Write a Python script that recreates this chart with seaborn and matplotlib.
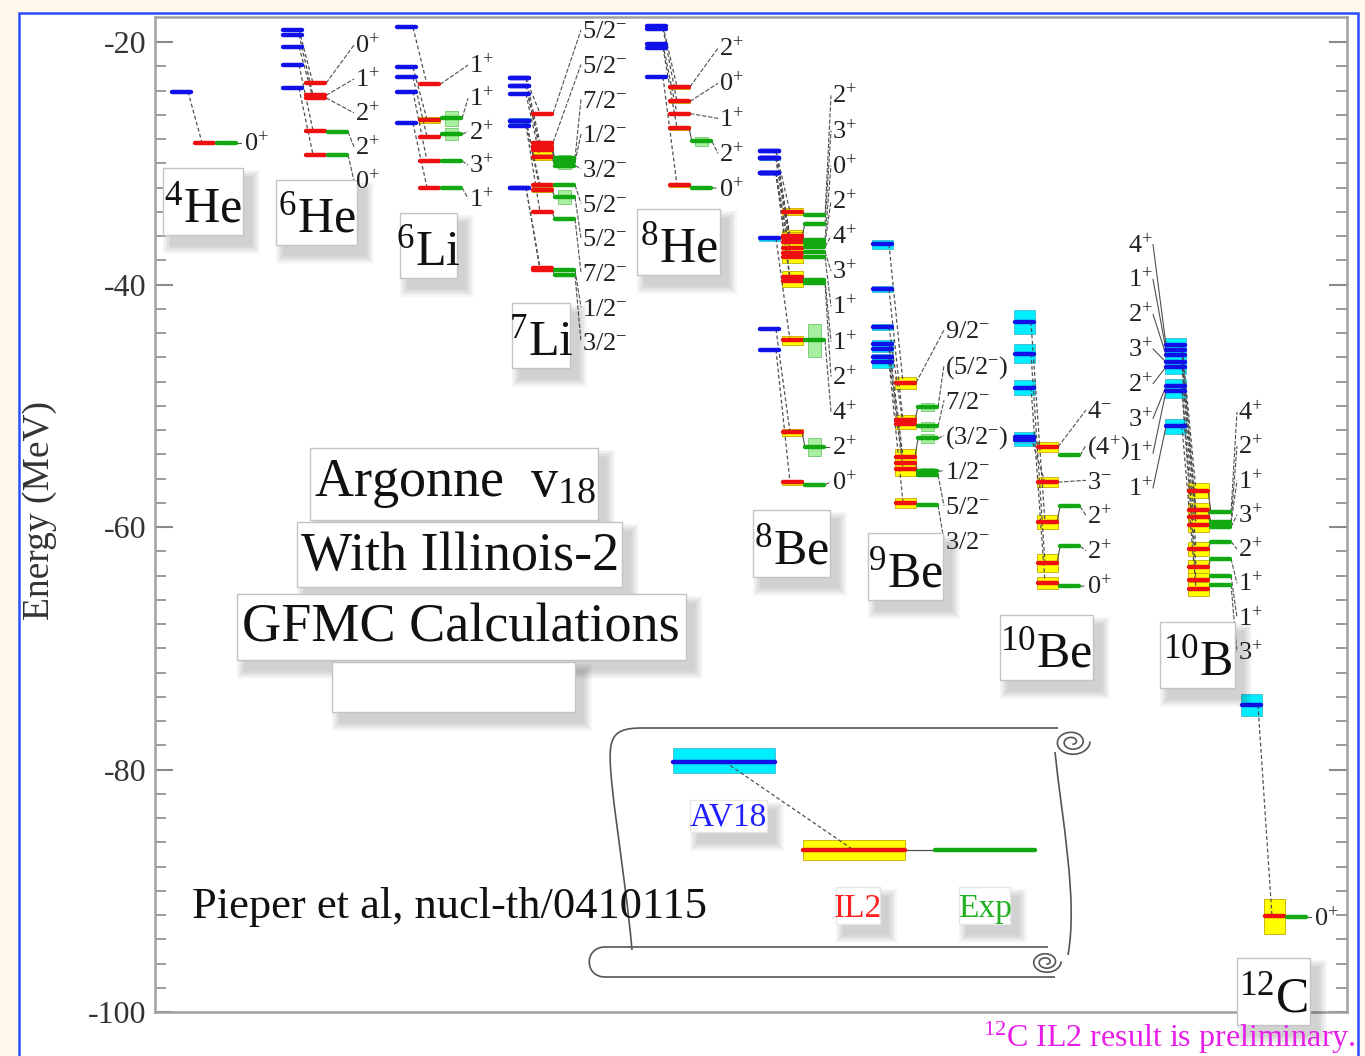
import numpy as np
import pandas as pd
import matplotlib
matplotlib.use("Agg")
import matplotlib.pyplot as plt
import seaborn as sns
from matplotlib.patches import Rectangle, PathPatch
from matplotlib.path import Path
from matplotlib.transforms import Affine2D

nan = np.nan

# ---------------- level energies (MeV), ordered like the spin labels ----------------
he4_spin = ["0$^{+}$"]
he4_av18 = [-24.1]
he4_il2 = [-28.3]
he4_exp = [-28.3]

he6_spin = ["0$^{+}$", "1$^{+}$", "2$^{+}$", "2$^{+}$", "0$^{+}$"]
he6_av18 = [-19.0, -19.4, -20.4, -21.9, -23.8]
he6_il2 = [-23.4, -24.4, -24.6, -27.3, -29.3]
he6_exp = [nan, nan, nan, -27.4, -29.3]

li6_spin = ["1$^{+}$", "1$^{+}$", "2$^{+}$", "3$^{+}$", "1$^{+}$"]
li6_av18 = [-18.8, -22.1, -22.9, -24.1, -26.7]
li6_il2 = [-23.5, -26.4, -27.8, -29.8, -32.0]
li6_il2_err = [0, 0.25, 0, 0, 0]
li6_exp = [nan, -26.3, -27.6, -29.8, -32.0]
li6_exp_w = [0, 0.6, 0.5, 0, 0]

li7_spin = ["5/2$^{-}$", "5/2$^{-}$", "7/2$^{-}$", "1/2$^{-}$", "3/2$^{-}$",
            "5/2$^{-}$", "5/2$^{-}$", "7/2$^{-}$", "1/2$^{-}$", "3/2$^{-}$"]
li7_av18 = [-23.0, -23.0, -23.6, -23.6, -24.3, -26.5, -26.5, -26.9, -32.0, -32.0]
li7_av18_err = [0, 0, 0, 0, 0, 0.2, 0.2, 0, 0, 0]
li7_il2 = [-25.9, -28.3, -28.7, -28.9, -29.5, -31.8, -32.2, -34.0, -38.6, -38.8]
li7_il2_err = [0, 0, 0.3, 0.3, 0.2, 0.15, 0.15, 0, 0, 0]
li7_exp = [nan, nan, -29.6, -29.9, -30.2, -31.8, -32.8, -34.6, -38.8, -39.2]
li7_exp_w = [0, 0, 0, 0.55, 0, 0, 0.6, 0, 0, 0]

he8_spin = ["2$^{+}$", "0$^{+}$", "1$^{+}$", "2$^{+}$", "0$^{+}$"]
he8_av18 = [-18.7, -18.9, -20.2, -20.5, -22.9]
he8_il2 = [-23.7, -24.9, -25.9, -27.1, -31.8]
he8_il2_err = [0.15, 0.15, 0.15, 0.15, 0.15]
he8_exp = [nan, nan, nan, -28.2, -32.0]
he8_exp_w = [0, 0, 0, 0.35, 0]

be8_spin = ["2$^{+}$", "3$^{+}$", "0$^{+}$", "2$^{+}$", "4$^{+}$", "3$^{+}$",
            "1$^{+}$", "1$^{+}$", "2$^{+}$", "4$^{+}$", "2$^{+}$", "0$^{+}$"]
be8_av18 = [-29.0, -29.0, -29.6, -29.6, -29.6, -30.8, -30.8, -30.8, -30.8, -36.2, -43.7, -45.4]
be8_av18_err = [0.1, 0.1, 0.1, 0.1, 0.1, 0, 0, 0, 0, 0.2, 0, 0]
be8_il2 = [-34.0, -36.0, -36.2, -36.5, -37.0, -37.4, -37.7, -39.4, -39.7, -44.6, -52.2, -56.3]
be8_il2_err = [0.3, 0.5, 0.5, 0.5, 0.5, 0.5, 0.5, 0.5, 0.5, 0.35, 0.3, 0.2]
be8_exp = [-34.3, -35.0, -36.3, -36.6, -36.9, -37.3, -37.7, -39.6, -39.9, -44.6, -53.4, -56.5]
be8_exp_w = [0, 0, 0, 0.3, 0, 0, 0, 0, 0, 1.35, 0.75, 0]

be9_spin = ["9/2$^{-}$", "(5/2$^{-}$)", "7/2$^{-}$", "(3/2$^{-}$)", "1/2$^{-}$", "5/2$^{-}$", "3/2$^{-}$"]
be9_av18 = [-36.7, -40.4, -43.5, -44.9, -45.3, -46.0, -46.4]
be9_av18_err = [0.4, 0.25, 0.25, 0.3, 0.3, 0.3, 0.45]
be9_il2 = [-48.1, -51.2, -51.5, -54.2, -54.7, -55.2, -58.0]
be9_il2_err = [0.5, 0.45, 0.45, 0.6, 0.6, 0.6, 0.4]
be9_exp = [nan, -50.1, -51.7, -52.7, -55.4, -55.7, -58.2]
be9_exp_w = [0, 0.3, 0.35, 0.35, 0.3, 0, 0]

be10_spin = ["4$^{-}$", "(4$^{+}$)", "3$^{-}$", "2$^{+}$", "2$^{+}$", "0$^{+}$"]
be10_av18 = [-52.8, nan, -52.6, -43.1, -45.7, -48.5]
be10_av18_err = [0.5, 0, 0.45, 1.0, 0.8, 0.6]
be10_il2 = [-53.4, nan, -56.3, -59.6, -63.0, -64.6]
be10_il2_err = [0.45, 0, 0.4, 0.55, 0.75, 0.5]
be10_exp = [nan, -54.1, nan, -58.3, -61.6, -64.9]

b10_spin = ["4$^{+}$", "2$^{+}$", "1$^{+}$", "3$^{+}$", "2$^{+}$", "1$^{+}$", "1$^{+}$", "3$^{+}$"]
b10_av18_spin = ["4$^{+}$", "1$^{+}$", "2$^{+}$", "3$^{+}$", "2$^{+}$", "3$^{+}$", "1$^{+}$", "1$^{+}$"]
b10_av18 = [-45.0, -45.4, -45.8, -46.4, -46.8, -48.4, -48.8, -51.7]
b10_av18_err = [0.6, 0.6, 0.6, 0.6, 0.6, 0.6, 0.6, 0.6]
b10_il2 = [-57.0, -58.6, -59.2, -59.8, -61.8, -63.3, -64.4, -65.1]
b10_il2_err = [0.6, 0.6, 0.6, 0.6, 0.6, 0.6, 0.6, 0.6]
b10_exp = [-58.8, -59.6, -59.7, -60.0, -61.2, -62.6, -64.0, -64.75]

c12_spin = ["0$^{+}$"]
c12_av18 = [-74.7]
c12_av18_err = [0.9]
c12_il2 = [-92.1]
c12_il2_err = [1.45]
c12_exp = [-92.2]

# ---------------- layout of the columns (pixel x of the AV18 column) ----------------
nuclei = [
    dict(name="$^{4}$He", spin=he4_spin, av18=he4_av18, il2=he4_il2, exp=he4_exp,
         x0=172, lab_top=-28.3, lab_step=0, box=(163, 168, 243, 235)),
    dict(name="$^{6}$He", spin=he6_spin, av18=he6_av18, il2=he6_il2, exp=he6_exp,
         x0=283, lab_top=-20.25, lab_step=2.8, box=(276, 180, 357, 245)),
    dict(name="$^{6}$Li", spin=li6_spin, av18=li6_av18, il2=li6_il2, exp=li6_exp,
         il2_err=li6_il2_err, exp_w=li6_exp_w,
         x0=397, lab_top=-21.9, lab_step=2.75, box=(400, 213, 457, 278)),
    dict(name="$^{7}$Li", spin=li7_spin, av18=li7_av18, il2=li7_il2, exp=li7_exp,
         av18_err=li7_av18_err, il2_err=li7_il2_err, exp_w=li7_exp_w,
         x0=510, lab_top=-19.0, lab_step=2.86, box=(512, 303, 570, 368)),
    dict(name="$^{8}$He", spin=he8_spin, av18=he8_av18, il2=he8_il2, exp=he8_exp,
         il2_err=he8_il2_err, exp_w=he8_exp_w,
         x0=647, lab_top=-20.5, lab_step=2.9, box=(637, 209, 720, 275)),
    dict(name="$^{8}$Be", spin=be8_spin, av18=be8_av18, il2=be8_il2, exp=be8_exp,
         av18_err=be8_av18_err, il2_err=be8_il2_err, exp_w=be8_exp_w,
         x0=760, lab_top=-24.4, lab_step=2.9, box=(753, 510, 830, 577)),
    dict(name="$^{9}$Be", spin=be9_spin, av18=be9_av18, il2=be9_il2, exp=be9_exp,
         av18_err=be9_av18_err, il2_err=be9_il2_err, exp_w=be9_exp_w,
         x0=873, lab_top=-43.75, lab_step=2.9, box=(868, 533, 943, 600)),
    dict(name="$^{10}$Be", spin=be10_spin, av18=be10_av18, il2=be10_il2, exp=be10_exp,
         av18_err=be10_av18_err, il2_err=be10_il2_err,
         x0=1015, lab_top=-50.35, lab_step=2.9, box=(1000, 615, 1093, 680)),
    dict(name="$^{10}$B", spin=b10_spin, av18=b10_av18, il2=b10_il2, exp=b10_exp,
         av18_err=b10_av18_err, il2_err=b10_il2_err, left_spin=b10_av18_spin,
         x0=1166, lab_top=-50.5, lab_step=2.83, box=(1160, 622, 1235, 688)),
    dict(name="$^{12}$C", spin=c12_spin, av18=c12_av18, il2=c12_il2, exp=c12_exp,
         av18_err=c12_av18_err, il2_err=c12_il2_err,
         x0=1242, lab_top=-92.2, lab_step=0, box=(1237, 958, 1310, 1025)),
]

BLUE, RED, GREEN = "#1010e8", "#ee1010", "#12a812"
CYAN, YELLOW, LGREEN = "#00eeff", "#ffff00", "#a8f0a0"
palette = {"AV18": BLUE, "IL2": RED, "Exp": GREEN}

# ---------------- figure ----------------
sns.set_theme(style="white")
plt.rcParams["font.family"] = ["Liberation Serif", "DejaVu Serif"]
plt.rcParams["mathtext.fontset"] = "custom"
plt.rcParams["mathtext.rm"] = "Liberation Serif"
plt.rcParams["mathtext.it"] = "Liberation Serif:italic"
plt.rcParams["mathtext.bf"] = "Liberation Serif:bold"
plt.rcParams["axes.unicode_minus"] = False

W, H = 1365, 1056
fig = plt.figure(figsize=(W / 100, H / 100), dpi=100)
fig.patch.set_facecolor("#fffaeb")
PX = Affine2D().scale(1 / W, -1 / H).translate(0, 1) + fig.transFigure

fig.add_artist(Rectangle((19, 13), 1339, 1100, transform=PX, fc="white",
                         ec="#2a4dff", lw=1.8, zorder=-5))

ax = fig.add_axes([155 / W, 1 - 1012 / H, (1347 - 155) / W, (1012 - 17) / H])
ax.set_facecolor("white")
for sp in ax.spines.values():
    sp.set_color("#a0a0a0")
    sp.set_linewidth(1.8)

LW = 19  # column width in px


def soft_box(x0, y0, x1, y1, z=5, ec="#c4c4c4"):
    for k in range(6):
        g = 2 + 3 * k
        ax.add_patch(Rectangle((x0 + 8 - g / 2, y0 + 10 - g / 2), (x1 - x0) + g, (y1 - y0) + g,
                               transform=PX, fc=(0, 0, 0, 0.03), ec="none",
                               zorder=z - 0.5, clip_on=False))
    ax.add_patch(Rectangle((x0, y0), x1 - x0, y1 - y0, transform=PX, fc="white",
                           ec=ec, lw=1.0, zorder=z, clip_on=False))


segments = []
seg_id = 0
for nuc in nuclei:
    n = len(nuc["spin"])
    av = np.asarray(nuc["av18"], float)
    il = np.asarray(nuc["il2"], float)
    ex = np.asarray(nuc["exp"], float)
    av_err = np.asarray(nuc.get("av18_err", [0] * n), float)
    il_err = np.asarray(nuc.get("il2_err", [0] * n), float)
    ex_w = np.asarray(nuc.get("exp_w", [0] * n), float)
    xa = nuc["x0"]
    xi = xa + 23
    xe = xa + 45
    xl = xa + 72

    for i in range(n):
        # uncertainty boxes
        if not np.isnan(av[i]) and av_err[i] > 0:
            ax.add_patch(Rectangle((xa - 1, av[i] - av_err[i]), LW + 2, 2 * av_err[i],
                                   fc=CYAN, ec="#40b8d0", lw=0.6, zorder=2))
        if not np.isnan(il[i]) and il_err[i] > 0:
            ax.add_patch(Rectangle((xi - 1, il[i] - il_err[i]), LW + 2, 2 * il_err[i],
                                   fc=YELLOW, ec="#c8a800", lw=0.6, zorder=2))
        if not np.isnan(ex[i]) and ex_w[i] > 0:
            ax.add_patch(Rectangle((xe + 3, ex[i] - ex_w[i]), LW - 6, 2 * ex_w[i],
                                   fc=LGREEN, ec="#70c870", lw=0.6, zorder=2))
        # level segments
        for model, vals, x in (("AV18", av, xa), ("IL2", il, xi), ("Exp", ex, xe)):
            if not np.isnan(vals[i]):
                segments.append((seg_id, model, x, vals[i]))
                segments.append((seg_id, model, x + LW, vals[i]))
                seg_id += 1
        # connectors between the columns
        if not np.isnan(av[i]) and not np.isnan(il[i]):
            ax.plot([xa + LW - 3, xi + 7], [av[i], il[i]], color="#505050", lw=0.9,
                    ls=(0, (3, 2)), zorder=3)
        if not np.isnan(il[i]) and not np.isnan(ex[i]):
            ax.plot([xi + LW, xe], [il[i], ex[i]], color="#505050", lw=0.8, zorder=3)
        # spin label
        ey = nuc["lab_top"] - i * nuc["lab_step"]
        if not np.isnan(ex[i]):
            end_x, end_e = xe + LW, ex[i]
        else:
            end_x, end_e = xi + LW, il[i]
        ax.plot([end_x + 1, xl - 1], [end_e, ey], color="#505050", lw=0.8,
                ls=(0, (4, 1.5)), zorder=3)
        ax.text(xl, ey - 0.7, nuc["spin"][i], fontsize=19, color="#222222",
                ha="left", va="baseline", zorder=7)

    # AV18 spin labels placed to the left of the column
    if "left_spin" in nuc:
        order = np.argsort(-av)
        for k, lab in enumerate(nuc["left_spin"]):
            ey = -36.7 - k * 2.87
            ax.text(xa - 38, ey - 0.7, lab, fontsize=19, color="#222222",
                    ha="left", va="baseline", zorder=7)
            ax.plot([xa - 13, xa], [ey, av[order[k]]], color="#505050", lw=0.8, zorder=3)

    # nucleus name box
    bx0, by0, bx1, by1 = nuc["box"]
    soft_box(bx0, by0, bx1, by1, z=5)
    ax.text((bx0 + bx1) / 2, by1 - 13, nuc["name"], transform=PX, fontsize=36,
            ha="center", va="baseline", color="#111111", zorder=6, clip_on=False)

seg_df = pd.DataFrame(segments, columns=["seg", "model", "x", "E"])
sns.lineplot(data=seg_df, x="x", y="E", hue="model", units="seg", estimator=None,
             sort=False, palette=palette, linewidth=3.2, legend=False, ax=ax, zorder=4)

# ---------------- title boxes ----------------
soft_box(310, 448, 598, 520)
soft_box(297, 522, 622, 587)
soft_box(237, 594, 686, 660)
soft_box(332, 662, 575, 712)
ax.text(455, 496, "Argonne  v$_{18}$", transform=PX, fontsize=39, ha="center",
        va="baseline", color="#111111", zorder=6)
ax.text(460, 570, "With Illinois-2", transform=PX, fontsize=39, ha="center",
        va="baseline", color="#111111", zorder=6)
ax.text(461, 641, "GFMC Calculations", transform=PX, fontsize=39, ha="center",
        va="baseline", color="#111111", zorder=6)

# ---------------- scroll with the key ----------------
def spiral(cx, cy, r0, turns=2.2):
    t = np.linspace(0, turns * 2 * np.pi, 200)
    r = np.linspace(r0, 3, t.size)
    return cx + r * np.cos(t), cy + 0.75 * r * np.sin(t)

scroll_kw = dict(transform=PX, color="#555555", lw=1.2, zorder=2.5, clip_on=False)
verts = [(632, 950), (624, 860), (604, 760), (612, 742),
         (615, 731), (625, 728), (642, 728), (1058, 728)]
codes = [Path.MOVETO, Path.CURVE4, Path.CURVE4, Path.CURVE4,
         Path.CURVE4, Path.CURVE4, Path.CURVE4, Path.LINETO]
ax.add_patch(PathPatch(Path(verts, codes), transform=PX, fc="none", ec="#555555",
                       lw=1.2, zorder=2.5, clip_on=False))
verts = [(1055, 752), (1062, 820), (1078, 900), (1068, 955)]
ax.add_patch(PathPatch(Path(verts, [Path.MOVETO, Path.CURVE4, Path.CURVE4, Path.CURVE4]),
                       transform=PX, fc="none", ec="#555555", lw=1.2, zorder=2.5, clip_on=False))
verts = [(1048, 947), (605, 947), (584, 947), (584, 977), (605, 977), (1055, 977)]
ax.add_patch(PathPatch(Path(verts, [Path.MOVETO, Path.LINETO, Path.CURVE4, Path.CURVE4,
                                    Path.CURVE4, Path.LINETO]),
                       transform=PX, fc="none", ec="#555555", lw=1.2, zorder=2.5, clip_on=False))
sx, sy = spiral(1072, 742, 18)
ax.plot(sx, sy, **scroll_kw)
sx, sy = spiral(1046, 962, 15)
ax.plot(sx, sy, **scroll_kw)

ax.add_patch(Rectangle((673, 748), 102, 25, transform=PX, fc=CYAN, ec="#40b8d0",
                       lw=0.6, zorder=3, clip_on=False))
ax.plot([673, 775], [762, 762], transform=PX, color=BLUE, lw=3.2, zorder=4)
ax.add_patch(Rectangle((803, 840), 102, 20, transform=PX, fc=YELLOW, ec="#c8a800",
                       lw=0.6, zorder=3, clip_on=False))
ax.plot([803, 905], [850, 850], transform=PX, color=RED, lw=3.2, zorder=4)
ax.plot([905, 935], [850, 850], transform=PX, color="#505050", lw=0.9, zorder=3)
ax.plot([935, 1035], [850, 850], transform=PX, color=GREEN, lw=3.2, zorder=4)
ax.plot([725, 852], [762, 849], transform=PX, color="#505050", lw=0.9,
        ls=(0, (3, 2)), zorder=3.5)

soft_box(690, 800, 767, 832, z=5, ec="#e6e6e6")
ax.text(728, 826, "AV18", transform=PX, fontsize=24, color="#2020ff", ha="center",
        va="baseline", zorder=6)
soft_box(836, 887, 880, 924, z=5, ec="#e6e6e6")
ax.text(858, 917, "IL2", transform=PX, fontsize=24, color="#ff2020", ha="center",
        va="baseline", zorder=6)
soft_box(959, 887, 1010, 924, z=5, ec="#e6e6e6")
ax.text(985, 917, "Exp", transform=PX, fontsize=24, color="#20b020", ha="center",
        va="baseline", zorder=6)

ax.text(192, 918, "Pieper et al, nucl-th/0410115", transform=PX, fontsize=32,
        color="#111111", ha="left", va="baseline", zorder=6)

ax.text(1356, 1047, "$^{12}$C IL2 result is preliminary.", transform=PX, fontsize=23,
        color="#e81ee8", ha="right", va="baseline", zorder=8, clip_on=False)

fig.text(40 / W, 1 - 510 / H, "Energy (MeV)", rotation=90, fontsize=27,
         color="#333333", ha="center", va="center")

# ---------------- axes ----------------
ax.set_xlim(155, 1347)
ax.set_ylim(-100, -20 + (42 - 17) / 12.125)
ax.set_xticks([])
ax.set_yticks([-100, -80, -60, -40, -20])
ax.set_yticklabels(["-100", "-80", "-60", "-40", "-20"])
ax.set_yticks(np.arange(-98, -18, 2), minor=True)
ax.tick_params(axis="y", which="both", direction="in", left=True, right=True,
               color="#8a8a8a", labelsize=23, labelcolor="#333333", pad=6)
ax.tick_params(axis="y", which="major", length=13, width=1.5)
ax.tick_params(axis="y", which="minor", length=8, width=1.2)
ax.set_xlabel("")
ax.set_ylabel("")

fig.savefig("out.png", dpi=100, facecolor=fig.get_facecolor())
